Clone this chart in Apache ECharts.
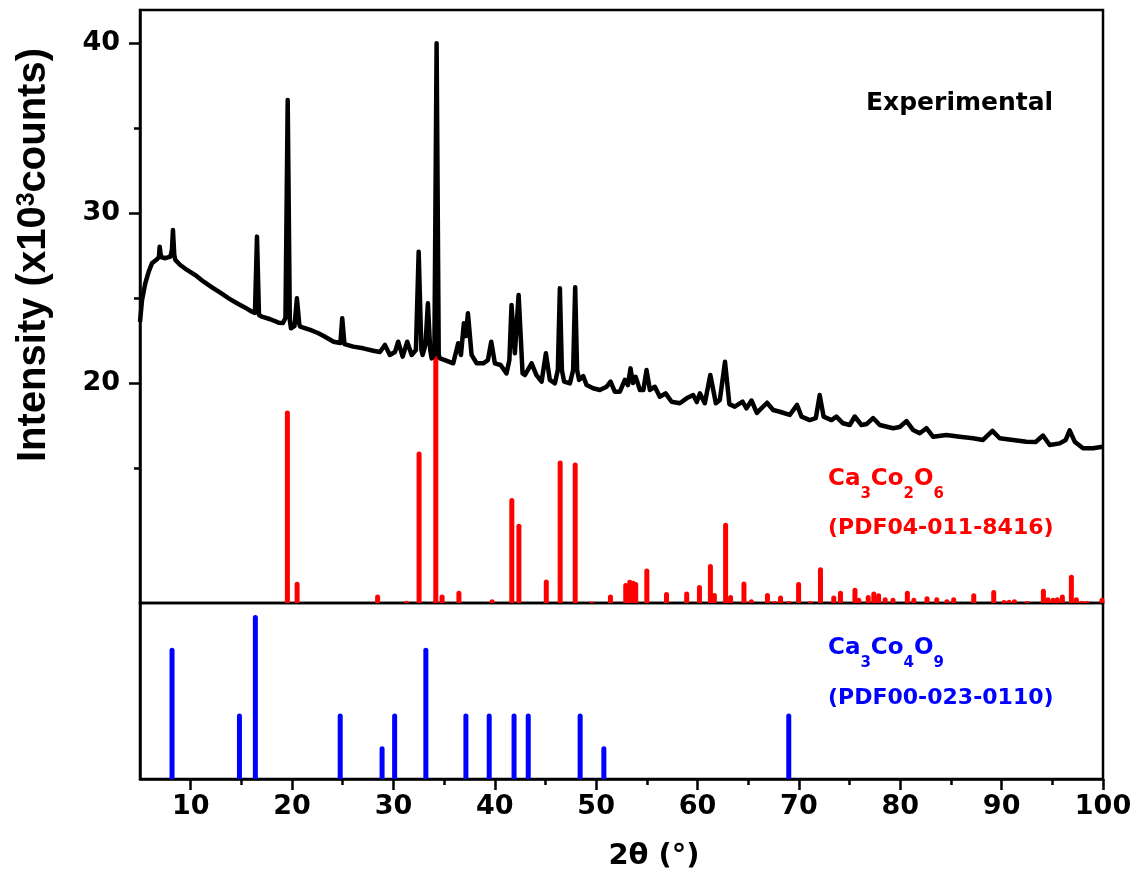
<!DOCTYPE html>
<html>
<head>
<meta charset="utf-8">
<script src="https://cdn.jsdelivr.net/npm/echarts@6/dist/echarts.min.js"></script>
<style>
html,body{margin:0;padding:0;background:#fff;}
#chart{width:1143px;height:877px;}
</style>
</head>
<body>
<div id="chart"></div>
<script>
// ---- Experimental pattern (2theta in degrees, intensity in x10^3 counts) ----
const expTwoTheta = [5.00,5.20,5.52,5.86,6.18,6.68,6.87,6.94,7.07,7.50,7.99,8.15,8.25,8.38,8.48,8.97,9.64,10.45,11.28,12.10,12.92,13.75,14.57,15.38,16.05,16.34,16.54,16.74,17.03,17.85,18.68,19.10,19.35,19.57,19.78,19.89,20.24,20.48,20.71,20.81,21.79,22.55,23.12,24.10,24.77,24.95,25.17,26.04,27.02,28.01,28.67,29.16,29.65,30.15,30.47,30.91,31.36,31.80,32.22,32.49,32.76,32.88,33.16,33.40,33.63,33.77,34.04,34.26,34.47,34.59,35.08,35.90,36.39,36.66,36.95,37.15,37.35,37.71,38.21,38.86,39.32,39.65,40.01,40.57,41.16,41.44,41.65,41.88,41.98,42.35,42.74,42.97,43.63,44.11,44.62,45.04,45.43,45.93,46.22,46.42,46.62,46.84,47.41,47.73,47.93,48.12,48.32,48.72,49.05,49.70,50.36,51.03,51.42,51.84,52.34,52.83,53.13,53.39,53.62,53.89,54.32,54.66,54.97,55.30,55.79,56.28,56.85,57.44,58.25,58.92,59.57,59.93,60.23,60.72,61.26,61.81,62.20,62.71,63.14,63.68,64.44,64.83,65.32,65.85,66.86,67.46,68.12,69.10,69.82,70.26,71.07,71.67,72.05,72.44,73.21,73.70,74.35,75.02,75.51,76.17,76.70,77.32,77.98,79.29,79.95,80.61,81.26,81.92,82.58,83.23,84.55,85.87,87.18,88.16,89.09,89.81,91.12,92.44,93.36,94.08,94.74,95.73,96.32,96.71,97.21,98.03,99.01,99.97];
const expIntensity = [23.59,24.88,25.86,26.55,27.04,27.28,27.41,28.02,27.41,27.34,27.43,27.82,29.00,27.53,27.24,26.94,26.65,26.35,25.96,25.63,25.31,24.98,24.69,24.43,24.19,24.12,28.61,24.00,23.90,23.75,23.55,23.53,23.82,36.65,23.71,23.22,23.35,24.98,23.47,23.31,23.12,22.94,22.76,22.43,22.35,23.81,22.29,22.14,22.04,21.90,21.82,22.24,21.65,21.82,22.43,21.55,22.43,21.65,21.94,27.72,21.94,21.65,22.24,24.69,21.94,21.45,21.65,39.98,21.65,21.45,21.35,21.16,22.34,21.65,23.51,22.76,24.10,21.65,21.16,21.16,21.35,22.43,21.16,21.06,20.57,21.35,24.59,22.53,21.75,25.18,20.57,20.47,21.16,20.47,20.08,21.75,20.18,19.98,20.76,25.57,20.76,20.08,19.98,20.76,25.63,20.76,20.18,20.41,19.88,19.69,19.59,19.78,20.08,19.49,19.49,20.18,19.88,20.86,20.00,20.37,19.59,19.59,20.76,19.59,19.78,19.19,19.39,18.90,18.81,19.10,19.29,18.88,19.39,18.81,20.47,18.81,19.00,21.25,18.76,18.61,18.90,18.51,18.97,18.24,18.84,18.41,18.31,18.12,18.71,18.02,17.82,17.94,19.29,18.02,17.82,18.02,17.63,17.53,18.03,17.53,17.59,17.94,17.53,17.34,17.41,17.76,17.24,17.04,17.34,16.84,16.94,16.84,16.75,16.65,17.18,16.75,16.65,16.55,16.53,16.91,16.35,16.45,16.65,17.21,16.55,16.16,16.16,16.25];

// ---- Ca3Co2O6 reference (PDF04-011-8416): position, relative intensity ----
const ca3co2o6Pos = [19.54,20.50,28.44,31.30,32.53,34.18,34.80,36.46,39.74,41.68,42.38,45.08,46.45,47.93,49.57,51.41,52.92,53.32,53.65,53.90,55.00,56.94,58.93,60.19,61.27,61.66,62.77,63.26,64.58,65.31,66.90,67.60,68.19,69.00,69.97,71.14,72.13,73.44,74.10,75.53,75.90,76.84,77.39,77.86,78.51,79.28,80.70,81.34,82.64,83.60,84.60,85.27,87.25,89.22,90.24,90.73,91.26,92.50,94.12,94.57,95.06,95.49,95.99,96.88,97.37,97.93,98.42,99.90];
const ca3co2o6Int = [59.7,6.6,2.6,0.7,47.0,100,2.6,3.8,1.2,32.6,24.6,7.3,44.2,43.6,0.5,2.6,6.2,7.2,6.9,6.5,10.7,3.4,3.6,5.6,12.1,3.1,24.9,2.5,6.7,1.2,3.1,0.6,2.3,0.6,6.5,0.6,11.1,2.3,3.8,4.7,1.6,2.5,3.6,3.0,1.8,1.6,3.8,1.6,2.1,1.8,1.2,1.8,3.0,4.0,0.9,1.0,1.2,0.6,4.4,1.8,1.6,1.8,2.6,8.8,1.8,0.6,0.6,1.6];

// ---- Ca3Co4O9 reference (PDF00-023-0110) ----
const ca3co4o9Pos = [8.16,14.81,16.38,24.75,28.88,30.12,33.20,37.15,39.45,41.90,43.30,48.42,50.76,69.00];
const ca3co4o9Int = [80,40,100,40,20,40,80,40,40,40,40,40,20,40];

// ---- tick labels ----
const xMajorTicks = [10,20,30,40,50,60,70,80,90,100];
const xMinorTicks = [15,25,35,45,55,65,75,85,95];
const yMajorTicks = [20,30,40];
const yMinorTicks = [15,25,35];

const FONT = 'DejaVu Sans';
const chart = echarts.init(document.getElementById('chart'));

const gridLeft = 140, gridW = 963;
const upperTop = 10, upperH = 593;
const lowerTop = 603, lowerH = 176;
const upperMin = 7.06, upperMax = 41.94;

const option = {
  animation: false,
  backgroundColor: '#fff',
  grid: [
    {left: gridLeft, top: upperTop, width: gridW, height: upperH, show: true, borderColor: '#000', borderWidth: 2.5, backgroundColor: 'transparent'},
    {left: gridLeft, top: lowerTop, width: gridW, height: lowerH, show: true, borderColor: '#000', borderWidth: 2.5, backgroundColor: 'transparent'}
  ],
  xAxis: [
    {gridIndex: 0, type: 'value', min: 5, max: 100, axisLine: {show: false}, axisTick: {show: false}, axisLabel: {show: false}, splitLine: {show: false}},
    {gridIndex: 1, type: 'value', min: 5, max: 100, position: 'bottom',
      axisLine: {show: true, lineStyle: {color: '#000', width: 2.5}},
      axisTick: {show: true, customValues: xMajorTicks, length: 11, lineStyle: {color: '#000', width: 2.5}},
      axisLabel: {show: true, customValues: xMajorTicks, margin: 14, color: '#000', fontFamily: FONT, fontWeight: 'bold', fontSize: 27},
      splitLine: {show: false}},
    {gridIndex: 1, type: 'value', min: 5, max: 100, position: 'bottom',
      axisLine: {show: false},
      axisTick: {show: true, customValues: xMinorTicks, length: 6, lineStyle: {color: '#000', width: 2.5}},
      axisLabel: {show: false}, splitLine: {show: false}}
  ],
  yAxis: [
    {gridIndex: 0, type: 'value', min: upperMin, max: upperMax, position: 'left',
      axisLine: {show: true, lineStyle: {color: '#000', width: 2.5}},
      axisTick: {show: true, customValues: yMajorTicks, length: 11, lineStyle: {color: '#000', width: 2.5}},
      axisLabel: {show: true, customValues: yMajorTicks, margin: 20, color: '#000', fontFamily: FONT, fontWeight: 'bold', fontSize: 27},
      splitLine: {show: false}},
    {gridIndex: 0, type: 'value', min: 0, max: 184, show: false, splitLine: {show: false}},
    {gridIndex: 0, type: 'value', min: upperMin, max: upperMax, position: 'left',
      axisLine: {show: false},
      axisTick: {show: true, customValues: yMinorTicks, length: 6, lineStyle: {color: '#000', width: 2.5}},
      axisLabel: {show: false}, splitLine: {show: false}},
    {gridIndex: 1, type: 'value', min: 0, max: 107.3, position: 'left',
      axisLine: {show: true, lineStyle: {color: '#000', width: 2.5}},
      axisTick: {show: false}, axisLabel: {show: false}, splitLine: {show: false}}
  ],
  series: [
    {type: 'bar', xAxisIndex: 0, yAxisIndex: 1, barWidth: 5, z: 2,
      itemStyle: {color: '#ff0000', borderRadius: [2.5, 2.5, 0, 0]},
      data: ca3co2o6Pos.map((p, i) => [p, ca3co2o6Int[i]])},
    {type: 'line', xAxisIndex: 0, yAxisIndex: 0, symbol: 'none', z: 4,
      lineStyle: {color: '#000', width: 4.5, join: 'round'},
      data: expTwoTheta.map((t, i) => [t, expIntensity[i]])},
    {type: 'bar', xAxisIndex: 1, yAxisIndex: 3, barWidth: 5, z: 3,
      itemStyle: {color: '#0000ff', borderRadius: [2.5, 2.5, 0, 0]},
      data: ca3co4o9Pos.map((p, i) => [p, ca3co4o9Int[i]])}
  ],
  graphic: [
    {type: 'text', x: 36, y: 255, rotation: Math.PI / 2, z: 10,
      style: {text: '{m|Intensity (x10}{s|3}{m|counts)}', align: 'center', verticalAlign: 'middle', fill: '#000',
        rich: {
          m: {fontFamily: 'Liberation Sans', fontWeight: 'bold', fontSize: 40, lineHeight: 44, verticalAlign: 'top', fill: '#000'},
          s: {fontFamily: 'Liberation Sans', fontWeight: 'bold', fontSize: 25, lineHeight: 25, verticalAlign: 'top', padding: [1, 0, 0, 0], fill: '#000'}
        }}},
    {type: 'text', x: 654, y: 856, z: 10,
      style: {text: '2θ (°)', align: 'center', verticalAlign: 'middle', fill: '#000', fontFamily: FONT, fontWeight: 'bold', fontSize: 29}},
    {type: 'text', x: 866, y: 103, z: 10,
      style: {text: 'Experimental', align: 'left', verticalAlign: 'middle', fill: '#000', fontFamily: FONT, fontWeight: 'bold', fontSize: 25}},
    {type: 'text', x: 828, y: 468, z: 10,
      style: {text: '{m|Ca}{s|3}{m|Co}{s|2}{m|O}{s|6}', align: 'left', verticalAlign: 'top',
        rich: {
          m: {fontFamily: FONT, fontWeight: 'bold', fontSize: 23, lineHeight: 24, verticalAlign: 'top', fill: '#ff0000'},
          s: {fontFamily: FONT, fontWeight: 'bold', fontSize: 15, lineHeight: 15, verticalAlign: 'top', padding: [19, 0, 0, 0], fill: '#ff0000'}
        }}},
    {type: 'text', x: 828, y: 528, z: 10,
      style: {text: '(PDF04-011-8416)', align: 'left', verticalAlign: 'middle', fill: '#ff0000', fontFamily: FONT, fontWeight: 'bold', fontSize: 22}},
    {type: 'text', x: 828, y: 637, z: 10,
      style: {text: '{m|Ca}{s|3}{m|Co}{s|4}{m|O}{s|9}', align: 'left', verticalAlign: 'top',
        rich: {
          m: {fontFamily: FONT, fontWeight: 'bold', fontSize: 23, lineHeight: 24, verticalAlign: 'top', fill: '#0000ff'},
          s: {fontFamily: FONT, fontWeight: 'bold', fontSize: 15, lineHeight: 15, verticalAlign: 'top', padding: [19, 0, 0, 0], fill: '#0000ff'}
        }}},
    {type: 'text', x: 828, y: 698, z: 10,
      style: {text: '(PDF00-023-0110)', align: 'left', verticalAlign: 'middle', fill: '#0000ff', fontFamily: FONT, fontWeight: 'bold', fontSize: 22}}
  ]
};
chart.setOption(option);
</script>
</body>
</html>
